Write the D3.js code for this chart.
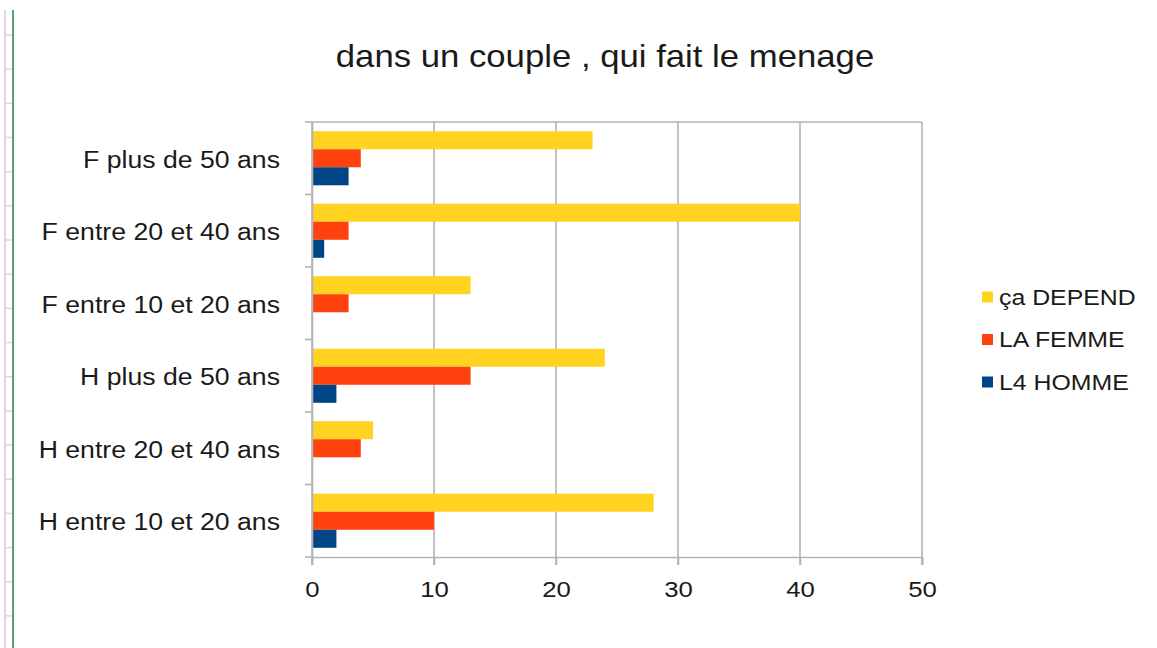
<!DOCTYPE html>
<html>
<head>
<meta charset="utf-8">
<script src="https://cdn.jsdelivr.net/npm/d3@7"></script>
<style>
  body { margin: 0; background: #fff; }
  svg { display: block; font-family: "Liberation Sans", Arial, sans-serif; }
</style>
</head>
<body>
<script>
'use strict';

// categories, top to bottom
const categories = [
  "F plus de 50 ans",
  "F entre 20 et 40 ans",
  "F entre 10 et 20 ans",
  "H plus de 50 ans",
  "H entre 20 et 40 ans",
  "H entre 10 et 20 ans"
];
const seriesNames = ["ça DEPEND", "LA FEMME", "L4 HOMME"];
const caDepend = [23, 40, 13, 24, 5, 28];
const laFemme = [4, 3, 3, 13, 4, 10];
const l4Homme = [3, 1, 0, 2, 0, 2];
const xTicks = [0, 10, 20, 30, 40, 50];
const colors = ["#ffd320", "#ff420e", "#004586"];

const W = 1157, H = 648;
const plot = { left: 312, right: 922, top: 122, bottom: 557 };
const stretch = 1.12;  // the screenshot's text is a bit wider than it is tall
const gridColor = "#b3b3b3";
const textColor = "#1a1a1a";

const svg = d3.select("body").append("svg")
  .attr("width", W)
  .attr("height", H);

// spreadsheet edge behind the chart (row borders + green frame)
const rowMarks = d3.range(35, H, 34.17);
svg.append("line")
  .attr("x1", 5).attr("x2", 5).attr("y1", 10).attr("y2", H)
  .attr("stroke", "#d9d9d9").attr("stroke-width", 2);
svg.selectAll(".rowmark").data(rowMarks).enter().append("line")
  .attr("class", "rowmark")
  .attr("x1", 4).attr("x2", 12)
  .attr("y1", (d) => d).attr("y2", (d) => d)
  .attr("stroke", "#d9d9d9").attr("stroke-width", 1.5);
svg.append("line")
  .attr("x1", 13).attr("x2", 13).attr("y1", 10).attr("y2", H)
  .attr("stroke", "#5f9f78").attr("stroke-width", 2);

// scales
const x = d3.scaleLinear().domain([0, 50]).range([plot.left, plot.right]);
const y = d3.scaleBand().domain(categories).range([plot.top, plot.bottom]).padding(0);
const yInner = d3.scaleBand().domain(seriesNames)
  .range([0, y.bandwidth()]).paddingOuter(0.51).paddingInner(0);

// gridlines
svg.append("g").selectAll("line").data(xTicks).enter().append("line")
  .attr("x1", (d) => x(d)).attr("x2", (d) => x(d))
  .attr("y1", plot.top).attr("y2", plot.bottom + 8)
  .attr("stroke", gridColor).attr("stroke-width", 1.6);
svg.append("line")
  .attr("x1", plot.left).attr("x2", plot.right)
  .attr("y1", plot.top).attr("y2", plot.top)
  .attr("stroke", gridColor).attr("stroke-width", 1.6);

// bars
const rows = categories.map((c, i) => ({
  cat: c,
  vals: [caDepend[i], laFemme[i], l4Homme[i]]
}));

const groups = svg.append("g").selectAll("g").data(rows).enter().append("g")
  .attr("transform", (d) => `translate(0,${y(d.cat)})`);

groups.selectAll("rect")
  .data((d) => d.vals.map((v, j) => ({ v: v, s: seriesNames[j], c: colors[j] })))
  .enter().append("rect")
  .attr("x", x(0))
  .attr("y", (d) => yInner(d.s))
  .attr("width", (d) => x(d.v) - x(0))
  .attr("height", yInner.bandwidth())
  .attr("fill", (d) => d.c);

// left axis (labels stretched horizontally around their anchor)
const yAxis = d3.axisLeft(y).tickSize(0).tickPadding(0);
const gy = svg.append("g")
  .attr("transform", `translate(${plot.left},0)`)
  .call(yAxis);
gy.select(".domain").attr("stroke", gridColor).attr("stroke-width", 1.6);
gy.selectAll("text")
  .attr("x", -32 / stretch)
  .attr("y", 2)
  .attr("transform", `scale(${stretch},1)`)
  .attr("font-size", 23.8)
  .attr("fill", textColor);
// band boundary ticks
const bounds = categories.map((c) => y(c)).concat([plot.bottom]);
svg.append("g").selectAll("line").data(bounds).enter().append("line")
  .attr("x1", plot.left - 7).attr("x2", plot.left)
  .attr("y1", (d) => d).attr("y2", (d) => d)
  .attr("stroke", gridColor).attr("stroke-width", 1.6);

// bottom axis
const xAxis = d3.axisBottom(x).tickValues(xTicks).tickSize(8).tickPadding(16);
const gx = svg.append("g")
  .attr("transform", `translate(0,${plot.bottom})`)
  .call(xAxis);
gx.select(".domain").attr("stroke", gridColor).attr("stroke-width", 1.6);
gx.selectAll(".tick line").attr("stroke", gridColor).attr("stroke-width", 1.6);
gx.selectAll("text")
  .attr("transform", `scale(${stretch},1)`)
  .attr("font-size", 23)
  .attr("fill", textColor);

// title
svg.append("text")
  .attr("transform", `translate(605,67) scale(${stretch},1)`)
  .attr("text-anchor", "middle")
  .attr("font-size", 31)
  .attr("fill", textColor)
  .text("dans un couple , qui fait le menage");

// legend
const legend = svg.append("g").selectAll("g").data(seriesNames).enter().append("g")
  .attr("transform", (d, i) => `translate(982,${297 + i * 42.5})`);
legend.append("rect")
  .attr("x", 0).attr("y", -5.5)
  .attr("width", 11).attr("height", 11)
  .attr("fill", (d, i) => colors[i]);
legend.append("text")
  .attr("transform", `translate(17,0) scale(${stretch},1)`)
  .attr("dy", "0.35em")
  .attr("font-size", 22.2)
  .attr("fill", textColor)
  .text((d) => d);
</script>
</body>
</html>
